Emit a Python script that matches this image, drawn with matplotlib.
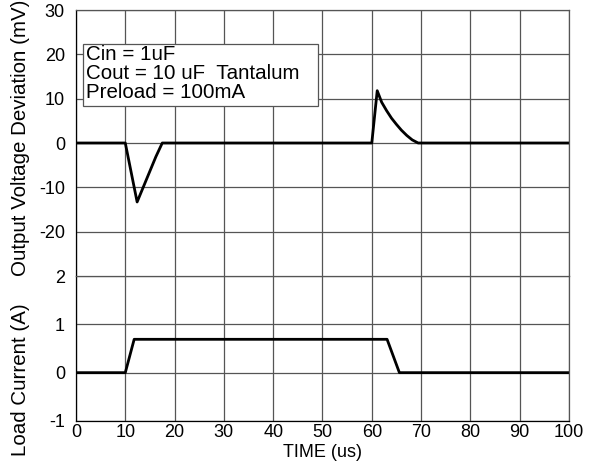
import matplotlib.pyplot as plt
from matplotlib.patches import Rectangle

plt.rcParams['font.family'] = ['Liberation Sans', 'DejaVu Sans']
plt.rcParams['axes.unicode_minus'] = False

# output voltage deviation (mV) vs time (us)
v_time = [0, 10, 12.4, 16.2, 17.5, 60.0, 61.1, 62.0, 63.0, 64.0, 65.0, 66.0, 67.1, 68.2, 69.4, 100]
v_dev = [0, 0, -13.3, -3.1, 0, 0, 11.8, 9.2, 7.3, 5.6, 4.2, 2.9, 1.7, 0.7, 0, 0]

# load current (A) vs time (us)
i_time = [0, 10, 11.8, 63.1, 65.6, 100]
i_load = [0, 0, 0.69, 0.69, 0, 0]

x_ticks = [0, 10, 20, 30, 40, 50, 60, 70, 80, 90, 100]
v_ticks = [-20, -10, 0, 10, 20, 30]
i_ticks = [-1, 0, 1, 2]

note = "Cin = 1uF\nCout = 10 uF  Tantalum\nPreload = 100mA"

fig = plt.figure(figsize=(5.9, 4.61), dpi=100)
ax_v = fig.add_axes([0.1288, 0.4013, 0.8356, 0.577])
ax_i = fig.add_axes([0.1288, 0.0868, 0.8356, 0.3145])

for ax in (ax_v, ax_i):
    ax.set_xlim(0, 100)
    ax.set_xticks(x_ticks)
    ax.grid(True, color='#555555', linewidth=0.9)
    ax.tick_params(length=0, labelsize=13, pad=8)
    for s in ax.spines.values():
        s.set_color('#555555')
        s.set_linewidth(0.9)
    ax.spines['left'].set_color('black')

ax_v.plot(v_time, v_dev, color='black', linewidth=2)
ax_v.set_ylim(-30, 30)
ax_v.set_yticks(v_ticks)
ax_v.tick_params(labelbottom=False)
ax_v.spines['bottom'].set_visible(False)

ax_i.plot(i_time, i_load, color='black', linewidth=2)
ax_i.set_ylim(-1, 2)
ax_i.set_yticks(i_ticks)
ax_i.spines['bottom'].set_color('black')
ax_i.tick_params(axis='x', pad=2)

# note box
ax_v.add_patch(Rectangle((1.4, 8.3), 47.7, 14.0, facecolor='white', edgecolor='#555555',
                         linewidth=0.9, zorder=3))
ax_v.text(2.0, 22.0, note, fontsize=14.8, va='top', ha='left', linespacing=0.98, zorder=4)

fig.text(0.546, 0.018, "TIME (us)", ha='center', va='center', fontsize=13)
fig.text(0.034, 0.70, "Output Voltage Deviation (mV)", rotation=90, ha='center', va='center', fontsize=14.8)
fig.text(0.034, 0.176, "Load Current (A)", rotation=90, ha='center', va='center', fontsize=14.8)

fig.savefig("out.png", dpi=100)
